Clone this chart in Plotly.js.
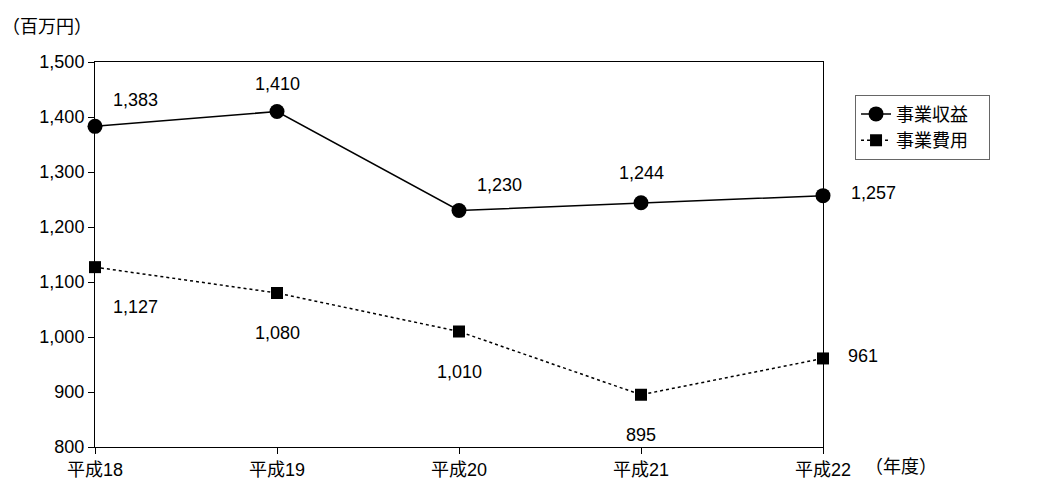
<!DOCTYPE html>
<html><head><meta charset="utf-8">
<script src="https://cdn.plot.ly/plotly-3.0.1.min.js"></script>
</head><body style="margin:0">
<div id="chart" style="width:1051px;height:491px"></div>
<script>
const years = ['平成18', '平成19', '平成20', '平成21', '平成22'];
const revenue = [1383, 1410, 1230, 1244, 1257];
const expense = [1127, 1080, 1010, 895, 961];
const yTicks = [800, 900, 1000, 1100, 1200, 1300, 1400, 1500];

const font = { family: 'Liberation Sans, Noto Sans CJK JP, sans-serif', size: 18, color: '#000' };
const xIdx = years.map((_, i) => i);

// label offsets in px (dx, dy)
const revOff = [[40, -26], [0, -28], [40, -26], [0, -30], [50, -3]];
const expOff = [[40, 40], [0, 40], [0, 40], [0, 40], [40, -2]];

const annotations = [];
revenue.forEach((v, i) => annotations.push({ x: i, y: v, text: v.toLocaleString(), showarrow: false, xshift: revOff[i][0], yshift: -revOff[i][1], font }));
expense.forEach((v, i) => annotations.push({ x: i, y: v, text: v.toLocaleString(), showarrow: false, xshift: expOff[i][0], yshift: -expOff[i][1], font }));
annotations.push({ xref: 'paper', yref: 'paper', x: -0.13, y: 1.06, xanchor: 'left', yanchor: 'bottom', text: '（百万円）', showarrow: false, font });
annotations.push({ xref: 'paper', yref: 'paper', x: 1.055, y: -0.02, xanchor: 'left', yanchor: 'top', text: '（年度）', showarrow: false, font });

Plotly.newPlot('chart', [
  { x: xIdx, y: revenue, name: '事業収益   ', mode: 'lines+markers', type: 'scatter', cliponaxis: false,
    line: { color: '#000', width: 1.5 }, marker: { symbol: 'circle', size: 15, color: '#000' } },
  { x: xIdx, y: expense, name: '事業費用   ', mode: 'lines+markers', type: 'scatter', cliponaxis: false,
    line: { color: '#000', width: 1.5, dash: 'dot' }, marker: { symbol: 'square', size: 12, color: '#000' } }
], {
  width: 1051, height: 491,
  margin: { l: 95, r: 228, t: 62, b: 44 },
  paper_bgcolor: '#fff', plot_bgcolor: '#fff',
  font,
  showlegend: true,
  legend: { x: 1.044, y: 0.915, xanchor: 'left', yanchor: 'top', bordercolor: '#666', borderwidth: 1, font, tracegroupgap: 2 },
  xaxis: { range: [0, 4], tickvals: xIdx, ticktext: years, showgrid: false, zeroline: false,
    showline: true, linecolor: '#000', mirror: true, ticks: 'outside', ticklen: 6, tickcolor: '#000' },
  yaxis: { range: [800, 1500], tickvals: yTicks, ticktext: yTicks.map(v => v.toLocaleString()), showgrid: false, zeroline: false,
    showline: true, linecolor: '#000', mirror: true, ticks: 'outside', ticklen: 6, tickcolor: '#000' },
  annotations
}, { displayModeBar: false });
</script>
</body></html>
